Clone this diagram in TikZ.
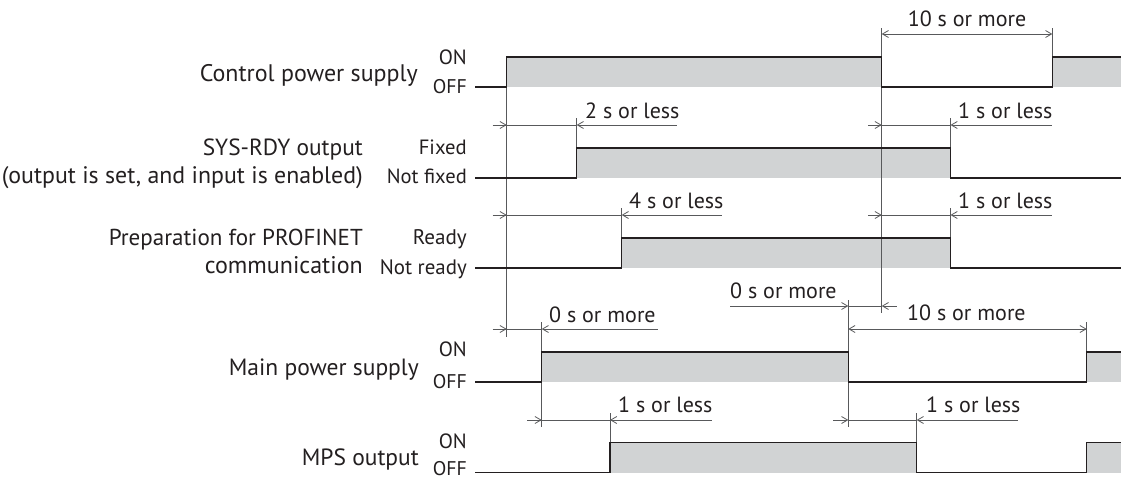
\documentclass[tikz,border=0pt]{standalone}
\usepackage{fontspec}
\setmainfont{PT Sans}
\usetikzlibrary{arrows.meta}
\definecolor{ink}{HTML}{231F20}
\definecolor{wfill}{HTML}{D1D3D4}
\definecolor{dimc}{HTML}{58595B}
\newcommand{\fitw}[2]{\resizebox{#1pt}{!}{#2}}
\begin{document}
\begin{tikzpicture}[x=1pt,y=-1pt,
  sig/.style={draw=ink, line width=1.3pt, line join=miter},
  dimln/.style={draw=dimc, line width=0.8pt},
  rtip/.style={dimln, -{Straight Barb[length=6pt,width=7pt]}},
  ltip/.style={dimln, {Straight Barb[length=6pt,width=7pt]}-},
  btip/.style={dimln, {Straight Barb[length=6pt,width=7pt]}-{Straight Barb[length=6pt,width=7pt]}},
  lbl/.style={anchor=base east, inner sep=0pt, font=\fontsize{22}{28}\selectfont, text=ink},
  st/.style={anchor=base east, inner sep=0pt, font=\fontsize{20}{24}\selectfont, text=ink},
  dl/.style={anchor=base west, inner sep=0pt, font=\fontsize{22}{26}\selectfont, text=ink}]
\useasboundingbox (0,0) rectangle (1121,479);

% time points
\def\xs{475}\def\tA{506.7}\def\tB{576.7}\def\tC{621.7}\def\tD{881.7}\def\tE{950.5}
\def\tF{1052.3}\def\tG{541.7}\def\tH{848.3}\def\tI{1086.7}\def\tJ{610}\def\tK{916.7}\def\xe{1121}

% ---------- fills ----------
\fill[wfill] (\tA,57) rectangle (\tD,87);
\fill[wfill] (\tF,57) rectangle (\xe,87);
\fill[wfill] (\tB,148) rectangle (\tE,178);
\fill[wfill] (\tC,238) rectangle (\tE,268);
\fill[wfill] (\tG,352) rectangle (\tH,382);
\fill[wfill] (\tI,352) rectangle (\xe,382);
\fill[wfill] (\tJ,442.3) rectangle (\tK,472.7);
\fill[wfill] (\tI,442.3) rectangle (\xe,472.7);

% ---------- extension lines ----------
\coordinate (eA1) at (\tA,87);  \coordinate (eA2) at (\tA,337);
\coordinate (eD1) at (\tD,28);  \coordinate (eD2) at (\tD,313);
\coordinate (eF1) at (\tF,28);  \coordinate (eF2) at (\tF,57);
\coordinate (eB1) at (\tB,118); \coordinate (eB2) at (\tB,148);
\coordinate (eE1) at (\tE,118); \coordinate (eE2) at (\tE,148);
\coordinate (eC1) at (\tC,208); \coordinate (eC2) at (\tC,238);
\coordinate (eE3) at (\tE,208); \coordinate (eE4) at (\tE,238);
\coordinate (eG1) at (\tG,322); \coordinate (eG2) at (\tG,427);
\coordinate (eH1) at (\tH,300); \coordinate (eH2) at (\tH,427);
\coordinate (eI1) at (\tI,322); \coordinate (eI2) at (\tI,352);
\coordinate (eJ1) at (\tJ,413); \coordinate (eJ2) at (\tJ,442.3);
\coordinate (eK1) at (\tK,413); \coordinate (eK2) at (\tK,442.3);
\foreach \a/\b in {eA1/eA2,eD1/eD2,eF1/eF2,eB1/eB2,eE1/eE2,eC1/eC2,eE3/eE4,eG1/eG2,eH1/eH2,eI1/eI2,eJ1/eJ2,eK1/eK2}
  \draw[dimln] (\a) -- (\b);

% ---------- signals ----------
\draw[sig] (\xs,87) -- (\tA,87) -- (\tA,57) -- (\tD,57) -- (\tD,87) -- (\tF,87) -- (\tF,57) -- (\xe,57);
\draw[sig] (\xs,178) -- (\tB,178) -- (\tB,148) -- (\tE,148) -- (\tE,178) -- (\xe,178);
\draw[sig] (\xs,268) -- (\tC,268) -- (\tC,238) -- (\tE,238) -- (\tE,268) -- (\xe,268);
\draw[sig] (\xs,382) -- (\tG,382) -- (\tG,352) -- (\tH,352) -- (\tH,382) -- (\tI,382) -- (\tI,352) -- (\xe,352);
\draw[sig] (\xs,472.7) -- (\tJ,472.7) -- (\tJ,442.3) -- (\tK,442.3) -- (\tK,472.7) -- (\tI,472.7) -- (\tI,442.3) -- (\xe,442.3);

% ---------- dimension arrows ----------
\draw[btip] (\tD,34) -- (\tF,34);
\node[dl, anchor=base] (d1) at (967,26) {10 s or more};
\draw[rtip] (492.7,125) -- (\tA,125);
\draw[dimln] (\tA,125) -- (\tB,125);
\draw[ltip] (\tB,125) -- (677,125);
\node[dl] (d2) at (585,118) {2 s or less};
\draw[rtip] (868,125) -- (\tD,125);
\draw[dimln] (\tD,125) -- (\tE,125);
\draw[ltip] (\tE,125) -- (1052,125);
\node[dl] (d3) at (958,118) {1 s or less};
\draw[rtip] (492.7,215) -- (\tA,215);
\draw[dimln] (\tA,215) -- (\tC,215);
\draw[ltip] (\tC,215) -- (722,215);
\node[dl] (d4) at (629,208) {4 s or less};
\draw[rtip] (868,215) -- (\tD,215);
\draw[dimln] (\tD,215) -- (\tE,215);
\draw[ltip] (\tE,215) -- (1052,215);
\node[dl] (d5) at (958,208) {1 s or less};
\draw[rtip] (492.7,329) -- (\tA,329);
\draw[dimln] (\tA,329) -- (\tG,329);
\draw[ltip] (\tG,329) -- (658,329);
\node[dl] (d6) at (549,322) {0 s or more};
\draw[rtip] (730,306) -- (\tH,306);
\draw[dimln] (\tH,306) -- (\tD,306);
\draw[ltip] (\tD,306) -- (897,306);
\node[dl] (d7) at (730,298.5) {0 s or more};
\draw[btip] (\tH,329) -- (\tI,329);
\node[dl] (d8) at (907,320.5) {10 s or more};
\draw[rtip] (527,420) -- (\tG,420);
\draw[dimln] (\tG,420) -- (\tJ,420);
\draw[ltip] (\tJ,420) -- (712,420);
\node[dl] (d9) at (618,412.5) {1 s or less};
\draw[rtip] (833,420) -- (\tH,420);
\draw[dimln] (\tH,420) -- (\tK,420);
\draw[ltip] (\tK,420) -- (1018,420);
\node[dl] (d10) at (926,412.5) {1 s or less};

% ---------- signal labels ----------
\node[lbl] (l1) at (418,81.5) {\fitw{218}{Control power supply}};
\node[st] (s1a) at (467,64) {\fitw{28}{ON}};
\node[st] (s1b) at (467,93) {\fitw{34}{OFF}};

\node[lbl] (l2a) at (363,155) {\fitw{160}{SYS-RDY output}};
\node[lbl] (l2b) at (363,183) {\fitw{361}{(output is set, and input is enabled)}};
\node[st] (s2a) at (467,154) {\fitw{48}{Fixed}};
\node[st] (s2b) at (467,183) {\fitw{80}{Not fixed}};

\node[lbl] (l3a) at (363,245.5) {\fitw{254}{Preparation for PROFINET}};
\node[lbl] (l3b) at (363,273.5) {\fitw{158}{communication}};
\node[st] (s3a) at (467,244.5) {\fitw{54}{Ready}};
\node[st] (s3b) at (467,274) {\fitw{87}{Not ready}};

\node[lbl] (l4) at (419,375) {\fitw{190}{Main power supply}};
\node[st] (s4a) at (467,356.7) {\fitw{28}{ON}};
\node[st] (s4b) at (467,388.3) {\fitw{34}{OFF}};

\node[lbl] (l5) at (419,465.7) {\fitw{117}{MPS output}};
\node[st] (s5a) at (467,448.3) {\fitw{28}{ON}};
\node[st] (s5b) at (467,475) {\fitw{34}{OFF}};
\end{tikzpicture}
\end{document}
